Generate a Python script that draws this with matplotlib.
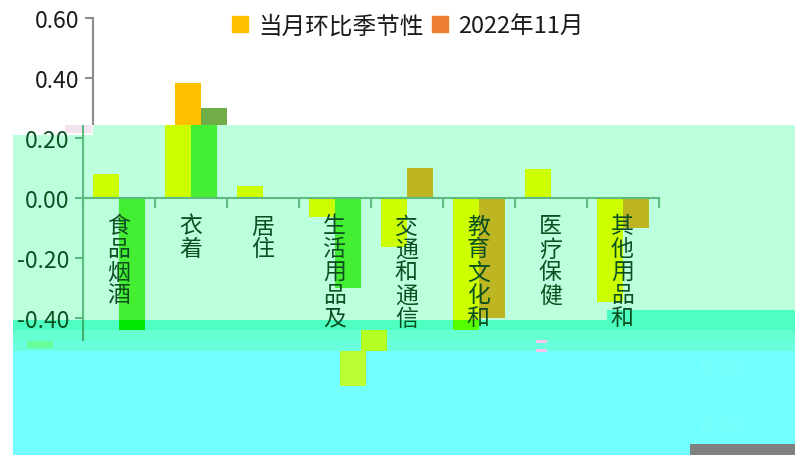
import matplotlib
matplotlib.use('Agg')
import matplotlib.pyplot as plt
from matplotlib.artist import Artist
from matplotlib.patches import Rectangle, Patch
from matplotlib.text import Text
from matplotlib.transforms import IdentityTransform

plt.rcParams['font.family'] = ['Noto Sans CJK SC', 'DejaVu Sans']

W, H = 795, 456
categories = ['食品烟酒', '衣着', '居住', '生活用品及服务', '交通和通信', '教育文化和娱乐', '医疗保健', '其他用品和服务']
seasonal = [0.08, 0.385, 0.04, -0.063, -0.163, -0.63, 0.097, -0.347]
nov_2022 = [-0.50, 0.30, 0.0, -0.30, 0.10, -0.40, 0.0, -0.10]
yticks = [-0.40, -0.20, 0.00, 0.20, 0.40, 0.60]

GREEN = '#44EE33'
OLIVE = '#BDB522'
main_s2 = [GREEN, GREEN, GREEN, GREEN, OLIVE, OLIVE, OLIVE, OLIVE]

fig = plt.figure(figsize=(W / 100, H / 100), dpi=100, facecolor='white')


def block(x0, y0, x1, y1, color, z=0):
    # rectangle of the damaged image, in pixels from the top left
    fig.add_artist(Rectangle((x0 / W, 1 - y1 / H), (x1 - x0) / W, (y1 - y0) / H, color=color,
                             lw=0, transform=fig.transFigure, zorder=z))


def strip(dx, y0, y1, c1, c2, ink='#0B4F20', axis='#5DBB80', show=None, labels=False,
          shown_ticks=(), frame=True, text_end=None, z=2):
    # same chart each time, moved by dx and cut to the rows y0..y1
    ax = fig.add_axes([(83 + dx) / W, 1 - 388 / H, 576 / W, 369 / H], zorder=z)
    ax.patch.set_visible(False)
    ax.set_xlim(0, 8)
    ax.set_ylim(-0.63, 0.60)
    idx = range(len(categories)) if show is None else show
    for i in idx:
        col2 = c2[i] if isinstance(c2, list) else c2
        ax.bar(i + 0.5 - 0.18, seasonal[i], 0.36, color=c1)
        ax.bar(i + 0.5 + 0.18, nov_2022[i], 0.36, color=col2)
    for s in ['top', 'right']:
        ax.spines[s].set_visible(False)
    ax.spines['bottom'].set_position(('data', 0))
    ax.spines['left'].set_bounds(-0.48, 0.60)
    ax.spines['bottom'].set_color(axis)
    ax.spines['left'].set_color(axis)
    ax.spines['bottom'].set_linewidth(1.5)
    ax.spines['left'].set_linewidth(1.5)
    ax.set_xticks(range(9))
    ax.set_xticklabels([])
    ax.set_yticks(yticks)
    ax.set_yticklabels(['%.2f' % v if v in shown_ticks else '' for v in yticks])
    ax.tick_params(axis='x', length=7.5, width=1.5, color=axis, direction='out')
    ax.tick_params(axis='y', length=6, width=1.5, color=axis, labelsize=16.5, labelcolor=ink, pad=4)
    if labels:
        for i, name in enumerate(categories):
            ax.text(i + 0.49, -0.055, '\n'.join(name), ha='center', va='top', fontsize=16.5,
                    color=ink, linespacing=1.0)
    if not frame:
        ax.axis('off')
    clip = Rectangle((0, H - y1), W, y1 - y0, transform=IdentityTransform())
    text_clip = clip
    if text_end is not None:
        text_clip = Rectangle((0, H - text_end), W, text_end - y0, transform=IdentityTransform())
    for art in ax.findobj(Artist):
        if art is not ax:
            art.set_clip_path(text_clip if isinstance(art, Text) else clip)
            art.set_clip_on(True)
    return ax


# damaged colour bands
block(93, 126, W, 136, '#BBFFDD')
block(13, 136, W, 321, '#BBFFDD')
block(607, 311, W, 321, '#4DFFC0', 1)
block(13, 321, W, 331, '#4DFFC0')
block(13, 331, W, 342, '#66FFD0')
block(13, 342, W, 352, '#6AFFDC')
block(13, 352, W, H, '#72FFFF')
block(690, 445, W, H, '#808080', 3)
block(65, 126, 92, 134, '#F4E4F0', 3)
block(536, 341, 547, 344, '#F6C4EE', 3)
block(536, 350, 547, 353, '#F6C4EE', 3)

strip(10, 0, 126, '#FFC000', '#70AD47', ink='#1A1A1A', axis='#8C8C8C', shown_ticks=(0.40, 0.60))
strip(0, 126, 321, '#CCFF00', main_s2, labels=True, shown_ticks=(-0.40, -0.20, 0.00, 0.20),
      text_end=331, z=3)
strip(0, 321, 331, '#55FF00', '#00E800', axis='#3CB070')
strip(0, 331, 342, '#66FFD0', '#66FFD0', axis='#3CB070', show=[])
strip(-92, 331, 352, '#B4FF22', '#66FFD0', show=[5], frame=False)
strip(-92, 342, 352, '#66FF99', '#66FF99', show=[0], frame=False)
strip(-113, 352, 387, '#BBFF33', '#72FFFF', show=[5], frame=False)

for y_px, txt in [(369, '0.60'), (427, '0.80')]:
    fig.text(722 / W, 1 - y_px / H, txt, color='#7CFFF8', fontsize=15.5, ha='center', va='center')

handles = [Patch(color='#FFC000', label='当月环比季节性'), Patch(color='#ED7D31', label='2022年11月')]
fig.legend(handles=handles, ncol=2, loc='center', bbox_to_anchor=(408 / W, 1 - 27 / H), frameon=False,
           fontsize=17, handlelength=0.68, handleheight=0.68, handletextpad=0.42, columnspacing=0.38,
           labelcolor='#1A1A1A')

fig.savefig('out.png', dpi=100)
